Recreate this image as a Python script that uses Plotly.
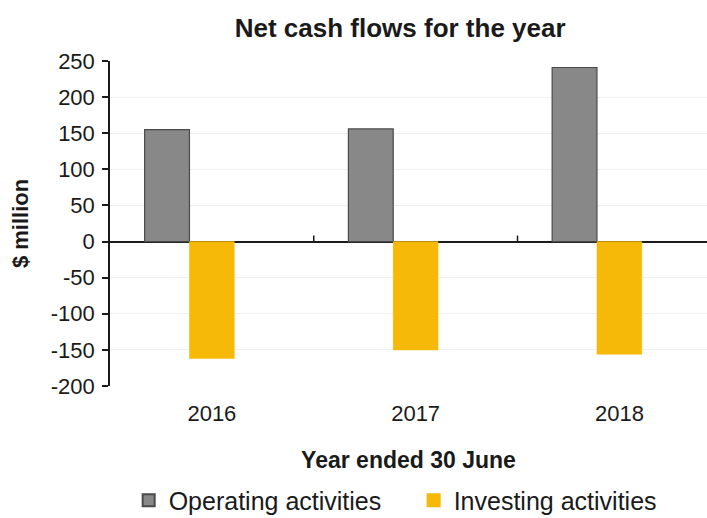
import plotly.graph_objects as go

years = ["2016", "2017", "2018"]
operating = [155, 156, 241]
investing = [-162, -150, -156]
y_ticks = [-200, -150, -100, -50, 0, 50, 100, 150, 200, 250]
y_tick_text = [str(v) for v in y_ticks]  # plain hyphen for negatives

font_family = "Liberation Sans, Arial, sans-serif"
ink = "#1a1a1a"

fig = go.Figure()
fig.add_trace(go.Bar(
    x=years, y=operating, name="Operating activities",
    marker=dict(color="#888888", line=dict(color="#4a4a4a", width=1.2)),
    width=0.22, offset=-0.33,
))
fig.add_trace(go.Bar(
    x=years, y=investing, name="Investing activities",
    marker=dict(color="#f6b908", line=dict(color="#f6b908", width=0.5)),
    width=0.22, offset=-0.11,
))

# small tick marks on the zero line between categories
for b in (0.5, 1.5):
    fig.add_shape(type="line", xref="x", yref="y", x0=b, x1=b,
                  ysizemode="pixel", yanchor=0, y0=0, y1=6,
                  line=dict(color=ink, width=1.5))

fig.update_layout(
    width=707, height=518,
    margin=dict(l=110, r=0, t=61, b=132),
    paper_bgcolor="white", plot_bgcolor="white",
    barmode="overlay",
    font=dict(family=font_family, size=22, color=ink),
    title=dict(text="<b>Net cash flows for the year</b>", xref="container", x=0.566,
               xanchor="center", yref="container", y=0.946, yanchor="middle",
               font=dict(size=26, color=ink)),
    xaxis=dict(
        range=[-0.5, 2.43], showline=False, ticks="", showgrid=False,
        tickfont=dict(size=22), ticklabelstandoff=12,
        title=dict(text="<b>Year ended 30 June</b>", font=dict(size=23), standoff=26),
    ),
    yaxis=dict(
        range=[-200, 250], tickvals=y_ticks, ticktext=y_tick_text,
        showline=True, linecolor=ink, linewidth=1.5,
        ticks="outside", ticklen=6, tickcolor=ink, tickwidth=1.5,
        showgrid=True, gridcolor="#f0f0f0", gridwidth=1,
        zeroline=True, zerolinecolor=ink, zerolinewidth=1.5,
        tickfont=dict(size=22), ticklabelstandoff=3,
        title=dict(text="<b>$ million</b>", font=dict(size=22), standoff=16),
    ),
    legend=dict(orientation="h", xref="container", x=0.182, xanchor="left",
                yref="container", y=0.034, yanchor="middle",
                font=dict(size=25), entrywidth=240, itemwidth=30,
                itemsizing="constant", tracegroupgap=0),
)

fig.write_html("out.html")
